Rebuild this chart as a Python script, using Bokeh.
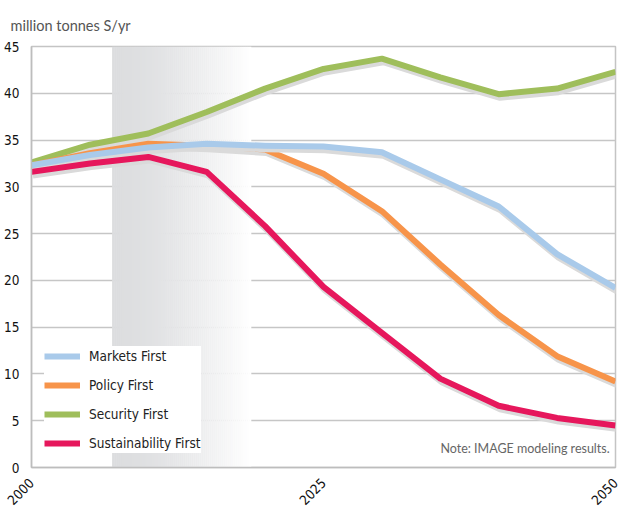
import math
from bokeh.plotting import figure
from bokeh.models import Range1d, Label, Legend, LegendItem, FixedTicker
from bokeh.embed import file_html
from bokeh.resources import INLINE

years = [2000, 2005, 2010, 2015, 2020, 2025, 2030, 2035, 2040, 2045, 2050]
markets_first = [32.3, 33.4, 34.2, 34.6, 34.4, 34.3, 33.7, 30.8, 27.9, 22.8, 19.2]
policy_first = [32.3, 33.6, 34.6, 34.4, 34.0, 31.4, 27.4, 21.7, 16.3, 11.9, 9.2]
security_first = [32.6, 34.5, 35.7, 38.0, 40.5, 42.6, 43.7, 41.7, 39.9, 40.5, 42.3]
sustainability_first = [31.6, 32.5, 33.2, 31.6, 25.8, 19.3, 14.4, 9.5, 6.6, 5.3, 4.5]

series_names = ["Markets First", "Policy First", "Security First", "Sustainability First"]
y_ticks = [0, 5, 10, 15, 20, 25, 30, 35, 40, 45]
x_ticks = [2000, 2025, 2050]

colors = {"Markets First": "#a9caea", "Policy First": "#f7944a",
          "Security First": "#9fbe5b", "Sustainability First": "#e6175c"}
series = {"Markets First": markets_first, "Policy First": policy_first,
          "Security First": security_first, "Sustainability First": sustainability_first}

NARROW = "DejaVu Sans Condensed"

p = figure(width=630, height=512, output_backend="svg", toolbar_location=None,
           x_range=Range1d(2000, 2050), y_range=Range1d(0, 45),
           min_border_left=31, min_border_right=15, min_border_top=46, min_border_bottom=43)
p.background_fill_color = "white"
p.border_fill_color = "white"
p.outline_line_color = "#c4c4c4"
p.outline_line_width = 1.5

# shaded gradient band (historic-to-projection backdrop)
band_start, band_end, n = 2006.9, 2018.8, 70
w = (band_end - band_start) / n
for i in range(n):
    t = (i / (n - 1)) ** 1.6
    c0, c1 = (220, 221, 223), (255, 255, 255)
    col = "#%02x%02x%02x" % tuple(int(round(a + (b - a) * t)) for a, b in zip(c0, c1))
    p.quad(left=band_start + i * w, right=band_start + (i + 1) * w + 0.02,
           bottom=0, top=45, fill_color=col, line_color=None)

# grid
p.xgrid.visible = False
p.ygrid.ticker = FixedTicker(ticks=y_ticks)
p.ygrid.grid_line_color = "#c6c6c6"
p.ygrid.grid_line_width = 1.3
p.ygrid.level = "image"

order = ["Security First", "Policy First", "Markets First", "Sustainability First"]
renderers = {}
for name in order:
    vals = series[name]
    p.line([x + 0.12 for x in years], [v - 0.38 for v in vals], line_color="#dadada",
           line_width=6, line_join="round")
    r = p.line(years, vals, line_color=colors[name], line_width=6, line_join="round")
    renderers[name] = r

legend = Legend(items=[LegendItem(label=n, renderers=[renderers[n]]) for n in series_names],
                location=(13, 14), orientation="vertical")
legend.background_fill_color = "white"
legend.background_fill_alpha = 1
legend.border_line_color = None
legend.padding = 5
legend.margin = 0
legend.spacing = 9
legend.glyph_height = 20
legend.glyph_width = 36
legend.label_standoff = 9
legend.label_text_font = NARROW
legend.label_text_font_size = "13.5px"
legend.label_text_color = "#222222"
p.add_layout(legend, "center")

# axes
p.yaxis.ticker = FixedTicker(ticks=y_ticks)
p.xaxis.ticker = FixedTicker(ticks=x_ticks)
for ax in (p.xaxis[0], p.yaxis[0]):
    ax.axis_line_color = "#bdbdbd"
    ax.axis_line_width = 1.5
    ax.major_tick_line_color = None
    ax.minor_tick_line_color = None
    ax.major_label_text_font = NARROW
    ax.major_label_text_font_size = "13.5px"
    ax.major_label_text_color = "#111111"
p.yaxis.major_label_standoff = 6
p.xaxis.major_label_orientation = math.pi / 4
p.xaxis.major_label_standoff = 7

p.title.text = "million tonnes S/yr"
p.title.text_font = "Lato"
p.title.text_font_style = "normal"
p.title.text_font_size = "14.5px"
p.title.text_color = "#555555"
p.title.align = "left"
p.title.offset = -21
p.title.standoff = 26

p.add_layout(Label(x=2049.5, y=1.2, text="Note: IMAGE modeling results.",
                   text_align="right", text_baseline="bottom",
                   text_font="Lato", text_font_size="12.5px", text_color="#666666"))

open("out.html", "w").write(file_html(p, INLINE))
